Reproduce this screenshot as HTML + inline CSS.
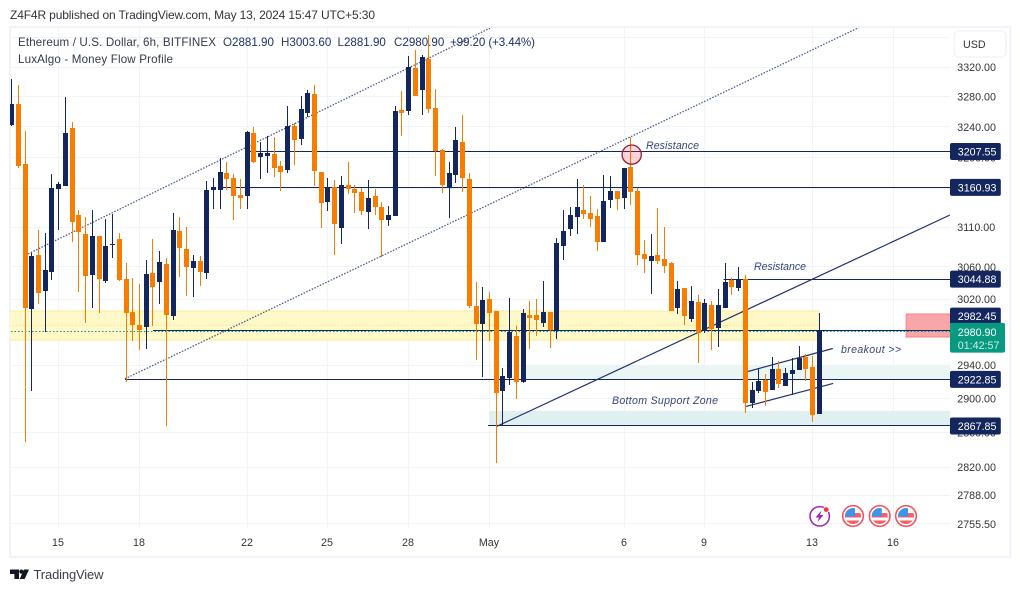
<!DOCTYPE html>
<html lang="en">
<head>
<meta charset="utf-8">
<title>ETH/USD 6h chart</title>
<style>
html,body{margin:0;padding:0;background:#fff;width:1020px;height:592px;overflow:hidden}
svg{display:block}
text{font-family:"Liberation Sans",sans-serif}
.ann{font-style:italic;font-size:10.6px;fill:#36467a}
.leg{font-size:11.6px;fill:#333a4d}
.val{fill:#1d3068}
</style>
</head>
<body>
<svg id="chart" xmlns="http://www.w3.org/2000/svg" width="1020" height="592" viewBox="0 0 1020 592">
  <defs>
    <clipPath id="plot-clip"><rect x="10" y="28" width="940" height="500"/></clipPath>
    <clipPath id="flag-clip"><circle cx="0" cy="0" r="8"/></clipPath>
    <g id="flag-icon">
      <circle r="10.3" fill="#fff" stroke="#f7525f" stroke-width="1.6"/>
      <g clip-path="url(#flag-clip)">
        <rect x="-8" y="-8" width="16" height="16" fill="#fff"/>
        <rect x="-8" y="-3" width="16" height="4.5" fill="#f0626b"/>
        <rect x="-8" y="4.5" width="16" height="4" fill="#f0626b"/>
        <rect x="-8" y="-8" width="10" height="8.5" fill="#3d94e8"/>
      </g>
    </g>
  </defs>

  <text x="10" y="19" font-size="12" fill="#333" textLength="365" lengthAdjust="spacing">Z4F4R published on TradingView.com, May 13, 2024 15:47 UTC+5:30</text>

  <rect x="10" y="27" width="1000.3" height="530" fill="#fff" stroke="#f0f3fa" stroke-width="2"/>

  <g id="grid-layer"></g>
  <g id="plot-layer" clip-path="url(#plot-clip)">
    <g id="zone-layer"></g>
    <g id="line-layer"></g>
    <g id="candle-layer"></g>
  </g>

  <circle cx="631.7" cy="154.6" r="9.6" fill="#f23645" fill-opacity="0.22" stroke="#8e2035" stroke-width="1.3"/>

  <text class="ann" x="646" y="149" textLength="53" lengthAdjust="spacing">Resistance</text>
  <text class="ann" x="754" y="270" textLength="52" lengthAdjust="spacing">Resistance</text>
  <text class="ann" x="841" y="353" textLength="60" lengthAdjust="spacing">breakout &gt;&gt;</text>
  <text class="ann" x="612" y="404" textLength="106" lengthAdjust="spacing">Bottom Support Zone</text>

  <g id="axis-layer"></g>

  <rect x="954.5" y="31" width="51.5" height="26" rx="4" fill="#fff" stroke="#f0f3fa" stroke-width="1.5"/>
  <text x="963" y="48" font-size="10.7" fill="#333">USD</text>

  <text class="leg" x="18" y="46" textLength="198" lengthAdjust="spacing">Ethereum / U.S. Dollar, 6h, BITFINEX</text>
  <text class="leg" x="223" y="46">O<tspan class="val">2881.90</tspan></text>
  <text class="leg" x="281" y="46">H<tspan class="val">3003.60</tspan></text>
  <text class="leg" x="337.5" y="46">L<tspan class="val">2881.90</tspan></text>
  <text class="leg" x="394" y="46">C<tspan class="val">2980.90</tspan></text>
  <text class="leg val" x="450" y="46" textLength="85" lengthAdjust="spacing">+99.20 (+3.44%)</text>
  <text class="leg" x="18" y="63" textLength="155" lengthAdjust="spacing">LuxAlgo - Money Flow Profile</text>

  <g>
    <circle cx="819.7" cy="516.3" r="9.7" fill="#fff" stroke="#9c27b0" stroke-width="1.5"/>
    <polygon points="821.5,510.5 815.5,517.5 819,517.5 817.5,522 823.5,515 820,515" fill="#9c27b0"/>
    <circle cx="826.2" cy="509.6" r="3.2" fill="#fff"/>
    <circle cx="826.2" cy="509.6" r="2.4" fill="#f23645"/>
  </g>
  <use href="#flag-icon" x="853" y="516"/>
  <use href="#flag-icon" x="879.7" y="516"/>
  <use href="#flag-icon" x="906" y="516"/>

  <g>
    <path d="M10 569.5h9v9.5h-4.6v-5h-4.4z" fill="#131722"/>
    <circle cx="21.4" cy="571.6" r="2.1" fill="#131722"/>
    <path d="M24 569.5h5l-4.3 9.5h-5z" fill="#131722"/>
    <text x="33.5" y="579" font-size="13" fill="#3a3e4a" textLength="70" lengthAdjust="spacing">TradingView</text>
  </g>
</svg>

<script>
/* ---- price data, one entry per 6h candle ---- */
const highs = [3304,3296,3234.5,3077.5,3106.5,3102.7,3178,3168,3279.6,3246,
3132,3123,3132,3099,3120.5,3127,3103,3065,3046,3039,
3069,3095,3080,3071,3128,3123,3110,3075,3074,3169,
3173,3199,3194,3178,3172,3234.5,3240,3220,3228,3226.5,
3195,3267.6,3245,3281,3289,3296,3181,3173,3170.5,3176,
3194,3164,3160,3170.5,3159,3142,3137,3267.6,3287.6,3335,
3343,3336,3363.6,3290,3211,3194,3240,3255.6,3179.5,3041.4,
3035,3029,3005.7,2936.7,3021.6,2987,3008,3018,3020,3042.6,
3004.5,3096,3132,3136,3172,3164,3150,3133,3177,3176,
3156,3186,3226.5,3160,3094,3101.5,3134.5,3110,3066,3042.6,
3034,3036,3025,3020,3018,3033,3065,3046,3060,3050,
2920,2936.7,2929.5,2950,2945,2936.7,2948.7,2963,2953.5,2951,3003.6];
const lows = [3241,3186,2849.6,2909.3,3014,2980,3044,3106.5,3163,3091,
3029,2991,3009,3003,3040,3071,3043,2920,2969,2958,
2959.5,2987,3014,2868,2995,3047.6,3024,3023,3036,3045,
3133,3133,3157.6,3119,3133,3133,3192.5,3172,3179.5,3174,
3156,3179.5,3190,3216,3253,3163,3109,3130.6,3075,3089,
3152.5,3128,3125.5,3108,3125.5,3072.5,3111.5,3124,3228,3255.6,
3281,3255.6,3258,3175.6,3154,3122,3166.6,3155,3009,2946,
2926,2969,2825,2868,2916.5,2900,2918,2959.5,2975,2986,
2960.7,2971.6,3069,3099,3101.5,3120.5,3110,3080,3091,3134.5,
3132,3133,3138,3062.5,3052.6,3026.6,3064,3052.6,3005.7,3002,
2988.6,2992,2942.7,2979,2958,2962,3009,3025,3030,2883,
2889,2907,2891.6,2910.5,2913,2915,2904.6,2934,2921,2873,2881.9];
const opens = [3242.4,3270,3191,3008,3075,3030,3054,3159,3163,3238,
3125.5,3101.5,3050,3099,3043,3087.6,3095,3045,3004.5,2988.6,
2986,3052.6,3041,3064,2999.6,3105,3082.5,3059,3067.5,3052.6,
3157.6,3157.6,3179.5,3173,3151,3150,3232,3200,3202,3204,
3188.6,3183.4,3241,3224,3258,3284,3181,3142,3161.5,3109,
3164,3159,3155,3129,3150,3136,3119,3124,3262.3,3261,
3319,3289,3331,3265,3209.5,3161.5,3177,3220,3172,3012,
2990,3020,3005.7,2909,2925,2975,2920,3001,3001,2991,
3004.5,2982.5,3086,3108,3123,3132,3128,3124,3091,3144.7,
3156,3147,3187,3156,3076,3067.5,3075,3070,3065,3009,
3034,2996,3016.7,2981,3013,2985,3009,3044,3034,3045,
2895,2909,2922,2910.5,2935.5,2915,2929.5,2934,2950,2938,2881.9];
const closes = [3270,3188.6,3009,3073.8,3028,3056,3160,3165,3232,3117,
3104,3049,3099,3045,3086,3089,3044,3003,2988.6,2982.5,
3051,3035,3066,3001,3106.5,3084,3060,3067.5,3054,3157.6,
3161.5,3181,3172,3150,3147,3233,3194,3205.5,3205.5,3186,
3181,3241,3222.6,3263.6,3285,3182,3141,3161.5,3114,3164,
3159,3154,3130.6,3147,3136,3119,3125.5,3261,3258,3320,
3281,3333.5,3263.6,3208,3164,3179.5,3222.6,3173,3012,2990,
3019,3003,2907,2927,2980,2920,3003,2997,2994.7,3004.5,
2982.5,3090,3105,3125.5,3136,3127,3120.5,3091,3143,3156,
3146,3186,3155,3075,3070,3073.8,3067.5,3061,3005.7,3033,
2999.6,3018,2979,3015.5,2984,3013,3041,3035,3045,2895,
2910.5,2921,2908,2935.5,2917.6,2930.7,2934,2948.7,2935.5,2881,2980.9];

/* ---- axis ticks ---- */
const priceTicks = [3360,3320,3280,3240,3200,3160,3110,3060,3020,2980,2940,2900,2860,2820,2788,2755.5];
const timeTickCandles = [7,19,35,47,59,71,91,103,119,131];
const timeTickLabels = ["15","18","22","25","28","May","6","9","13","16"];

/* ---- drawn levels: price and the candle where each starts ---- */
const levelPrices = [3207.55,3160.93,3044.88,2980.9,2922.85,2867.85];
const levelStartCandles = [35,31.4,105.8,21,16.85,70.8];
const tagPrices = [3207.55,3160.93,3044.88,2982.45,2922.85,2867.85];
const lastPrice = 2980.9;
const countdownLabel = "01:42:57";

/* ---- trend lines: candle index / price anchors ---- */
const channelLineCandles = [[2.44,71.08],[16.85,126.04]];
const channelLinePrices = [[3076.3,3373],[2923.6,3374.6]];
const solidLineCandles = [[72.1,139.41],[109.4,122],[109.1,122.05]];
const solidLinePrices = [[2867.5,3125.5],[2932.3,2959.9],[2890.8,2918]];

/* ---- zones: candle range and price range ---- */
const supplyZoneCandles = [-2,120];
const supplyZonePrices = [3005.7,2970.4];
const supportZoneCandles = [[76,140],[71,140]];
const supportZonePrices = [[2940.3,2922.85],[2885.7,2867.85]];
const markerZoneCandles = [132.9,140];
const markerZonePrices = [3002,2974.3];

/* ---- axis functions ---- */
const X_ORIGIN = 11.6, X_STEP = 6.731;
const Y_REF_PRICE = 3320, Y_REF_PIXEL = 67, Y_PER_LOG = 2452;
function xScale(i){ return X_ORIGIN + X_STEP * i; }
function yScale(p){ return Y_REF_PIXEL + (Math.log(Y_REF_PRICE) - Math.log(p)) * Y_PER_LOG; }
function snap(v){ return Math.floor(v) + 0.5; }

const NS = 'http://www.w3.org/2000/svg';
function make(tag, attrs, parent){
  const n = document.createElementNS(NS, tag);
  for (const k in attrs) n.setAttribute(k, attrs[k]);
  parent.appendChild(n);
  return n;
}
const gridLayer = document.getElementById('grid-layer');
const zoneLayer = document.getElementById('zone-layer');
const lineLayer = document.getElementById('line-layer');
const candleLayer = document.getElementById('candle-layer');
const axisLayer = document.getElementById('axis-layer');

const NAVY = '#13265e', ORANGE = '#f77c00', GRID = '#f0f3fa', PLOT_RIGHT = 950;
const fmt = p => p.toFixed(2);

/* grid + axis labels */
priceTicks.forEach(function(p){
  const y = snap(yScale(p));
  const line = make('line', {x1:11, x2:PLOT_RIGHT, y1:y, y2:y, stroke:GRID, 'stroke-width':1, 'shape-rendering':'crispEdges'}, gridLayer);
  
  
  const t = make('text', {x:957.3, y:yScale(p)+4, 'font-size':10.7, fill:'#333'}, axisLayer);
  
  
  t.textContent = fmt(p);
});
timeTickCandles.forEach(function(c, k){
  const x = snap(xScale(c));
  const line = make('line', {x1:x, x2:x, y1:28, y2:528, stroke:GRID, 'stroke-width':1, 'shape-rendering':'crispEdges'}, gridLayer);
  
  
  const t = make('text', {x:x-0.5, y:546, 'font-size':10.7, fill:'#333', 'text-anchor':'middle'}, axisLayer);
  
  
  t.textContent = timeTickLabels[k];
});

/* zones */
function zoneRect(cands, prices, fill, stroke){
  const x1 = xScale(cands[0]), x2 = xScale(cands[1]);
  const y1 = Math.round(yScale(prices[0])), y2 = Math.round(yScale(prices[1]));
  return make('rect', {x:x1, y:y1, width:x2-x1, height:y2-y1, fill:fill, stroke:stroke, 'stroke-width':1}, zoneLayer);
}
const supplyBox = zoneRect(supplyZoneCandles, supplyZonePrices, '#fff9c9', '#fbec98');


const supplyY = snap((yScale(supplyZonePrices[0]) + yScale(supplyZonePrices[1])) / 2);
const supplyMid = make('line', {x1:xScale(supplyZoneCandles[0]), x2:xScale(supplyZoneCandles[1]), y1:supplyY, y2:supplyY, stroke:'#fbe88a', 'stroke-dasharray':'1.5 2'}, zoneLayer);


supportZoneCandles.forEach(function(c, k){
  const box = zoneRect(c, supportZonePrices[k], k === 0 ? '#eaf5f5' : '#e0efef', 'none');
  
  
});
const markerBox = zoneRect(markerZoneCandles, markerZonePrices, '#f8a6a8', '#f77f83');



/* horizontal levels */
levelPrices.forEach(function(p, k){
  const y = snap(yScale(p)) - (p === lastPrice ? 1 : 0);
  const line = make('line', {x1:xScale(levelStartCandles[k]), x2:PLOT_RIGHT, y1:y, y2:y, stroke:NAVY, 'stroke-width':1, 'shape-rendering':'crispEdges'}, lineLayer);
  
  
});
const lastLine = make('line', {x1:11, x2:PLOT_RIGHT, y1:snap(yScale(lastPrice)), y2:snap(yScale(lastPrice)), stroke:'#089981', 'stroke-dasharray':'1.5 2', 'stroke-width':1}, lineLayer);



/* trend lines */
channelLineCandles.forEach(function(c, k){
  const line = make('line', {x1:xScale(c[0]), y1:yScale(channelLinePrices[k][0]), x2:xScale(c[1]), y2:yScale(channelLinePrices[k][1]), stroke:'#2c3d78', 'stroke-opacity':0.85, 'stroke-width':1.3, 'stroke-dasharray':'1.5 1.5'}, lineLayer);
  
  
});
solidLineCandles.forEach(function(c, k){
  const line = make('line', {x1:xScale(c[0]), y1:yScale(solidLinePrices[k][0]), x2:xScale(c[1]), y2:yScale(solidLinePrices[k][1]), stroke:'#1f3270', 'stroke-width':1.2}, lineLayer);
  
  
});

/* candles */
opens.forEach(function(o, i){
  const c = closes[i];
  const color = c >= o ? NAVY : ORANGE;
  const cx = snap(xScale(i));
  const wick = make('rect', {x:cx-0.5, y:Math.round(yScale(highs[i])), width:1, height:Math.max(1, Math.round(yScale(lows[i]))-Math.round(yScale(highs[i]))), fill:color, 'shape-rendering':'crispEdges'}, candleLayer);
  
  
  const top = Math.round(yScale(Math.max(o, c)));
  const bottom = Math.round(yScale(Math.min(o, c)));
  const body = make('rect', {x:cx-2.5, y:top, width:5, height:Math.max(1, bottom-top), fill:color, 'shape-rendering':'crispEdges'}, candleLayer);
  
  
});

/* price tags */
const lastY = yScale(lastPrice);
tagPrices.forEach(function(p){
  let y = yScale(p);
  if (Math.abs(y - lastY) < 16) y = lastY - 15;
  const box = make('rect', {x:950, y:y-8.5, width:50.8, height:17, rx:2, fill:NAVY}, axisLayer);
  
  
  const t = make('text', {x:957.8, y:y+4, 'font-size':10.7, fill:'#fff'}, axisLayer);
  
  
  t.textContent = fmt(p);
});
const lastBox = make('rect', {x:950, y:lastY-8.3, width:55, height:29.8, rx:2, fill:'#089981'}, axisLayer);


const lastText = make('text', {x:957.8, y:lastY+4.7, 'font-size':10.7, fill:'#fff'}, axisLayer);


lastText.textContent = fmt(lastPrice);
const countdownText = make('text', {x:957.8, y:lastY+17.7, 'font-size':10.7, fill:'#cdeee7'}, axisLayer);


countdownText.textContent = countdownLabel;
</script>
</body>
</html>
